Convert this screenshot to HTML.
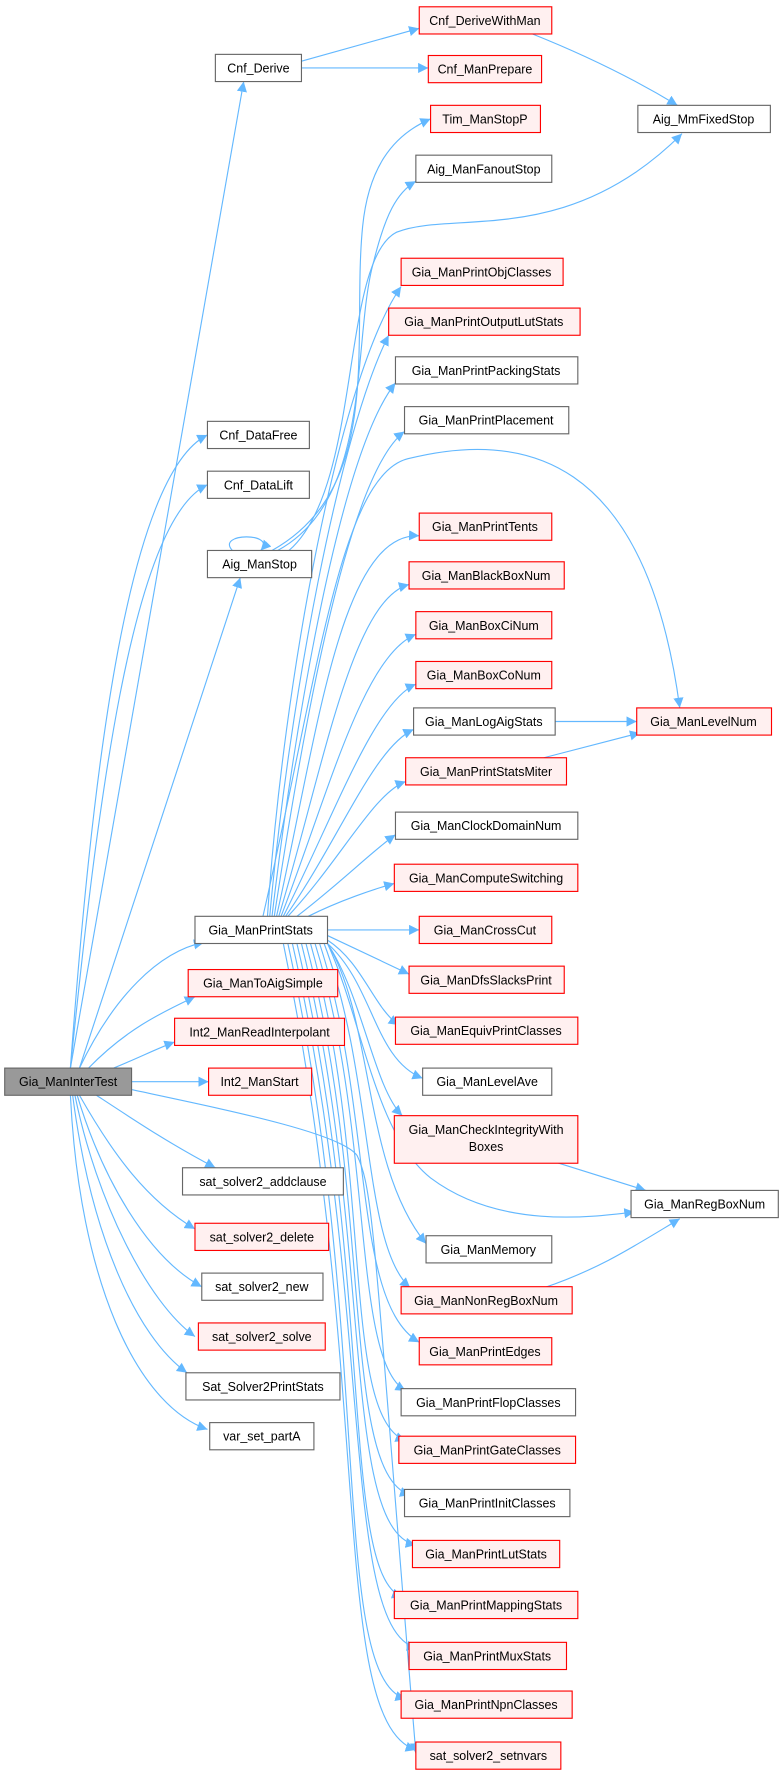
<!DOCTYPE html>
<html><head><meta charset="utf-8"><style>
html,body{margin:0;padding:0;background:#fff}
svg{display:block}
text{font-family:"Liberation Sans",Arial,sans-serif;font-size:11px;fill:#000}
.w{fill:#fff;stroke:#666;stroke-width:1}
.r{fill:#fff0f0;stroke:#f00;stroke-width:1}
.g{fill:#999;stroke:#666;stroke-width:1}
.e{fill:none;stroke:#63b8ff;stroke-width:1}
</style></head><body>
<svg width="783" height="1776" viewBox="0 0 691 1568" xmlns="http://www.w3.org/2000/svg">
<defs><marker id="a" viewBox="0 0 10 10" refX="10" refY="5" markerWidth="9" markerHeight="9" markerUnits="userSpaceOnUse" orient="auto"><path d="M0,0 L10,5 L0,10 z" fill="#63b8ff"/></marker></defs>
<g marker-end="url(#a)" class="e">
<path class="e" d="M62,943 L215,72"/>
<path class="e" d="M62,943 C80,700 110,420 183,384"/>
<path class="e" d="M62,943 C85,720 115,460 183,428"/>
<path class="e" d="M70,943 L212,510"/>
<path class="e" d="M70,943 C100,880 140,840 180,832"/>
<path class="e" d="M78,943 C110,910 140,895 172,880"/>
<path class="e" d="M100,943 C120,935 140,925 154,920"/>
<path class="e" d="M116,955 L184,955"/>
<path class="e" d="M116,962 C200,980 300,1000 315,1020 C330,1050 330,1100 367,1548"/>
<path class="e" d="M85,967 C120,990 150,1010 190,1031"/>
<path class="e" d="M70,967 C100,1020 130,1060 172,1085"/>
<path class="e" d="M68,967 C90,1040 130,1110 178,1136"/>
<path class="e" d="M66,967 C85,1060 130,1150 172,1180"/>
<path class="e" d="M64,967 C80,1090 120,1180 165,1212"/>
<path class="e" d="M62,967 C70,1130 120,1240 183,1262"/>
<path class="e" d="M266,54 L370,25"/>
<path class="e" d="M266,60 L378,60"/>
<path class="e" d="M470,30 C520,50 560,70 598,93"/>
<path class="e" d="M205,486 C190,470 245,470 230,486"/>
<path class="e" d="M240,486 C340,430 310,300 320,200 C325,150 345,120 380,105"/>
<path class="e" d="M245,486 C330,440 310,300 330,230 C340,190 350,170 367,160"/>
<path class="e" d="M255,486 C320,430 300,230 350,205 C400,185 500,220 602,118"/>
<path class="e" d="M236,809 C250,600 300,330 354,253"/>
<path class="e" d="M238,809 C255,620 300,380 343,296"/>
<path class="e" d="M240,809 C260,640 300,400 349,338"/>
<path class="e" d="M242,809 C265,660 305,420 357,381"/>
<path class="e" d="M244,809 C280,650 300,470 370,473"/>
<path class="e" d="M246,809 C285,680 310,530 361,516"/>
<path class="e" d="M248,809 C290,700 320,580 367,560"/>
<path class="e" d="M250,809 C295,720 330,620 367,604"/>
<path class="e" d="M252,809 C300,740 330,660 365,644"/>
<path class="e" d="M254,809 C300,760 330,700 358,690"/>
<path class="e" d="M262,809 C300,780 330,750 349,737"/>
<path class="e" d="M272,809 C300,795 330,785 348,780"/>
<path class="e" d="M289,821 L370,821"/>
<path class="e" d="M289,826 L361,860"/>
<path class="e" d="M289,830 C320,850 330,890 352,905"/>
<path class="e" d="M289,833 C330,870 330,935 373,952"/>
<path class="e" d="M289,833 C320,880 330,960 355,985"/>
<path class="e" d="M289,833 C330,900 320,1030 376,1098"/>
<path class="e" d="M286,833 C330,950 320,1100 362,1137"/>
<path class="e" d="M282,833 C330,980 310,1150 370,1185"/>
<path class="e" d="M278,833 C330,1000 310,1200 358,1228"/>
<path class="e" d="M274,833 C330,1030 300,1250 358,1272"/>
<path class="e" d="M270,833 C330,1060 300,1300 362,1320"/>
<path class="e" d="M266,833 C330,1090 300,1350 367,1364"/>
<path class="e" d="M262,833 C330,1120 300,1390 355,1410"/>
<path class="e" d="M258,833 C330,1150 300,1440 368,1455"/>
<path class="e" d="M254,833 C330,1180 290,1480 358,1500"/>
<path class="e" d="M250,833 C330,1220 290,1520 367,1545"/>
<path class="e" d="M232,809 C280,600 300,420 360,405 C460,380 570,400 600,625"/>
<path class="e" d="M289,833 C320,900 330,1000 380,1040 C440,1085 520,1075 560,1070"/>
<path class="e" d="M490,637 L562,637"/>
<path class="e" d="M480,669 L565,647"/>
<path class="e" d="M490,1026 L570,1051"/>
<path class="e" d="M480,1137 C530,1120 560,1100 600,1076"/>
</g>
<rect class="g" x="4" y="943" width="112" height="24"/><text x="60" y="959" text-anchor="middle">Gia_ManInterTest</text>
<g text-anchor="middle">
<rect class="w" x="190" y="48" width="76" height="24"/><text x="228" y="64">Cnf_Derive</text>
<rect class="w" x="183" y="372" width="90" height="24"/><text x="228" y="388">Cnf_DataFree</text>
<rect class="w" x="183" y="416" width="90" height="24"/><text x="228" y="432">Cnf_DataLift</text>
<rect class="w" x="183" y="486" width="92" height="24"/><text x="229" y="502">Aig_ManStop</text>
<rect class="w" x="172" y="809" width="117" height="24"/><text x="230" y="825">Gia_ManPrintStats</text>
<rect class="r" x="166" y="856" width="132" height="24"/><text x="232" y="872">Gia_ManToAigSimple</text>
<rect class="r" x="154" y="899" width="150" height="24"/><text x="229" y="915">Int2_ManReadInterpolant</text>
<rect class="r" x="184" y="943" width="91" height="24"/><text x="229" y="959">Int2_ManStart</text>
<rect class="w" x="161" y="1031" width="142" height="24"/><text x="232" y="1047">sat_solver2_addclause</text>
<rect class="r" x="172" y="1080" width="118" height="24"/><text x="231" y="1096">sat_solver2_delete</text>
<rect class="w" x="178" y="1124" width="107" height="24"/><text x="231" y="1140">sat_solver2_new</text>
<rect class="r" x="175" y="1168" width="112" height="24"/><text x="231" y="1184">sat_solver2_solve</text>
<rect class="w" x="164" y="1212" width="136" height="24"/><text x="232" y="1228">Sat_Solver2PrintStats</text>
<rect class="w" x="185" y="1256" width="92" height="24"/><text x="231" y="1272">var_set_partA</text>

<rect class="r" x="370" y="6" width="117" height="24"/><text x="428" y="22">Cnf_DeriveWithMan</text>
<rect class="r" x="378" y="49" width="100" height="24"/><text x="428" y="65">Cnf_ManPrepare</text>
<rect class="r" x="380" y="93" width="97" height="24"/><text x="428" y="109">Tim_ManStopP</text>
<rect class="w" x="367" y="137" width="120" height="24"/><text x="427" y="153">Aig_ManFanoutStop</text>
<rect class="r" x="354" y="228" width="143" height="24"/><text x="425" y="244">Gia_ManPrintObjClasses</text>
<rect class="r" x="343" y="272" width="169" height="24"/><text x="427" y="288">Gia_ManPrintOutputLutStats</text>
<rect class="w" x="349" y="315" width="161" height="24"/><text x="429" y="331">Gia_ManPrintPackingStats</text>
<rect class="w" x="357" y="359" width="145" height="24"/><text x="429" y="375">Gia_ManPrintPlacement</text>
<rect class="r" x="370" y="453" width="117" height="24"/><text x="428" y="469">Gia_ManPrintTents</text>
<rect class="r" x="361" y="496" width="137" height="24"/><text x="429" y="512">Gia_ManBlackBoxNum</text>
<rect class="r" x="367" y="540" width="120" height="24"/><text x="427" y="556">Gia_ManBoxCiNum</text>
<rect class="r" x="367" y="584" width="120" height="24"/><text x="427" y="600">Gia_ManBoxCoNum</text>
<rect class="w" x="365" y="625" width="125" height="24"/><text x="427" y="641">Gia_ManLogAigStats</text>
<rect class="r" x="358" y="669" width="142" height="24"/><text x="429" y="685">Gia_ManPrintStatsMiter</text>
<rect class="w" x="349" y="717" width="161" height="24"/><text x="429" y="733">Gia_ManClockDomainNum</text>
<rect class="r" x="348" y="763" width="162" height="24"/><text x="429" y="779">Gia_ManComputeSwitching</text>
<rect class="r" x="370" y="809" width="117" height="24"/><text x="428" y="825">Gia_ManCrossCut</text>
<rect class="r" x="361" y="853" width="137" height="24"/><text x="429" y="869">Gia_ManDfsSlacksPrint</text>
<rect class="r" x="349" y="898" width="161" height="24"/><text x="429" y="914">Gia_ManEquivPrintClasses</text>
<rect class="w" x="373" y="943" width="114" height="24"/><text x="430" y="959">Gia_ManLevelAve</text>
<rect class="r" x="348" y="985" width="162" height="42"/><text x="429" y="1001">Gia_ManCheckIntegrityWith</text><text x="429" y="1016">Boxes</text>
<rect class="w" x="376" y="1091" width="111" height="24"/><text x="431" y="1107">Gia_ManMemory</text>
<rect class="r" x="354" y="1136" width="151" height="24"/><text x="429" y="1152">Gia_ManNonRegBoxNum</text>
<rect class="r" x="370" y="1181" width="117" height="24"/><text x="428" y="1197">Gia_ManPrintEdges</text>
<rect class="w" x="354" y="1226" width="154" height="24"/><text x="431" y="1242">Gia_ManPrintFlopClasses</text>
<rect class="r" x="352" y="1268" width="156" height="24"/><text x="430" y="1284">Gia_ManPrintGateClasses</text>
<rect class="w" x="357" y="1315" width="146" height="24"/><text x="430" y="1331">Gia_ManPrintInitClasses</text>
<rect class="r" x="364" y="1360" width="130" height="24"/><text x="429" y="1376">Gia_ManPrintLutStats</text>
<rect class="r" x="348" y="1405" width="162" height="24"/><text x="429" y="1421">Gia_ManPrintMappingStats</text>
<rect class="r" x="361" y="1450" width="139" height="24"/><text x="430" y="1466">Gia_ManPrintMuxStats</text>
<rect class="r" x="354" y="1493" width="151" height="24"/><text x="429" y="1509">Gia_ManPrintNpnClasses</text>
<rect class="r" x="367" y="1538" width="128" height="24"/><text x="431" y="1554">sat_solver2_setnvars</text>

<rect class="w" x="563" y="93" width="117" height="24"/><text x="621" y="109">Aig_MmFixedStop</text>
<rect class="r" x="562" y="625" width="119" height="24"/><text x="621" y="641">Gia_ManLevelNum</text>
<rect class="w" x="557" y="1051" width="130" height="24"/><text x="622" y="1067">Gia_ManRegBoxNum</text>
</g>
</svg>
</body></html>
